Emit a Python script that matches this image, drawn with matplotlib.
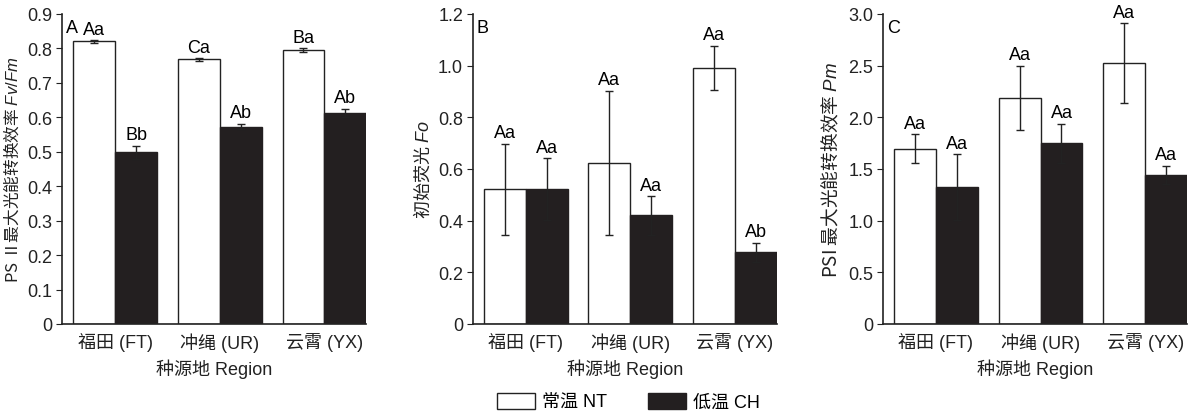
import numpy as np
import matplotlib
matplotlib.use('Agg')
import matplotlib.pyplot as plt
from matplotlib.patches import Patch

plt.rcParams['font.family'] = ['Liberation Sans', 'Noto Sans CJK SC']
plt.rcParams['mathtext.fontset'] = 'custom'
plt.rcParams['mathtext.it'] = 'Liberation Sans:italic'
plt.rcParams['mathtext.rm'] = 'Liberation Sans'

regions = ['福田 (FT)', '冲绳 (UR)', '云霄 (YX)']
xlabel = '种源地 Region'

# panel A: Fv/Fm
fvfm_nt = [0.820, 0.768, 0.795]
fvfm_nt_err = [0.003, 0.004, 0.006]
fvfm_ch = [0.499, 0.573, 0.613]
fvfm_ch_err = [0.019, 0.008, 0.012]
fvfm_nt_lab = ['Aa', 'Ca', 'Ba']
fvfm_ch_lab = ['Bb', 'Ab', 'Ab']

# panel B: Fo
fo_nt = [0.522, 0.623, 0.990]
fo_nt_err = [0.176, 0.280, 0.086]
fo_ch = [0.523, 0.420, 0.278]
fo_ch_err = [0.119, 0.074, 0.037]
fo_nt_lab = ['Aa', 'Aa', 'Aa']
fo_ch_lab = ['Aa', 'Aa', 'Ab']

# panel C: Pm
pm_nt = [1.695, 2.186, 2.525]
pm_nt_err = [0.142, 0.313, 0.384]
pm_ch = [1.327, 1.747, 1.443]
pm_ch_err = [0.317, 0.190, 0.088]
pm_nt_lab = ['Aa', 'Aa', 'Aa']
pm_ch_lab = ['Aa', 'Aa', 'Aa']

panels = [
    ('A', fvfm_nt, fvfm_nt_err, fvfm_ch, fvfm_ch_err, fvfm_nt_lab, fvfm_ch_lab,
     'PS Ⅱ最大光能转换效率 $\\mathit{Fv/Fm}$', 12, 0.9, np.arange(0, 0.91, 0.1),
     ['0'] + ['%.1f' % v for v in np.arange(0.1, 0.91, 0.1)], 0.052),
    ('B', fo_nt, fo_nt_err, fo_ch, fo_ch_err, fo_nt_lab, fo_ch_lab,
     '初始荧光 $\\mathit{Fo}$', 13, 1.2, np.arange(0, 1.21, 0.2),
     ['0'] + ['%.1f' % v for v in np.arange(0.2, 1.21, 0.2)], 0.395),
    ('C', pm_nt, pm_nt_err, pm_ch, pm_ch_err, pm_nt_lab, pm_ch_lab,
     'PSI 最大光能转换效率 $\\mathit{Pm}$', 13.5, 3.0, np.arange(0, 3.01, 0.5),
     ['0'] + ['%.1f' % v for v in np.arange(0.5, 3.01, 0.5)], 0.7377),
]

fig = plt.figure(figsize=(11.97, 4.14), dpi=100)
x = np.arange(3)
w = 0.40
fs = 13

for letter, nt, nte, ch, che, ntl, chl, ylab, yfs, ymax, yt, ytl, left in panels:
    ax = fig.add_axes([left, 0.215, 0.254, 0.749])
    ax.bar(x - w / 2, nt, w, color='white', edgecolor='#222222', linewidth=1.0,
           yerr=nte, error_kw=dict(ecolor='#222222', elinewidth=1.0, capsize=3, capthick=1.0))
    ax.bar(x + w / 2, ch, w, color='#231f20', edgecolor='#231f20', linewidth=1.0,
           yerr=che, error_kw=dict(ecolor='#222222', elinewidth=1.0, capsize=3, capthick=1.0))
    off = ymax * 0.008
    for i in range(3):
        ax.text(x[i] - w / 2, nt[i] + nte[i] + off, ntl[i], ha='center', va='bottom', fontsize=fs)
        ax.text(x[i] + w / 2, ch[i] + che[i] + off, chl[i], ha='center', va='bottom', fontsize=fs)
    ax.set_xlim(-0.505, 2.40)
    ax.set_ylim(0, ymax)
    ax.set_yticks(yt)
    ax.set_yticklabels(ytl)
    ax.set_xticks(x)
    ax.set_xticklabels(regions)
    ax.tick_params(axis='x', length=0, labelsize=fs, pad=6, colors='#222222')
    ax.tick_params(axis='y', direction='out', length=4, labelsize=fs, pad=3, colors='#222222')
    for s in ['top', 'right']:
        ax.spines[s].set_visible(False)
    for s in ['left', 'bottom']:
        ax.spines[s].set_linewidth(1.2)
        ax.spines[s].set_color('#222222')
    ax.set_xlabel(xlabel, fontsize=fs, labelpad=5, color='#222222')
    ax.set_ylabel(ylab, fontsize=yfs, labelpad=4, color='#222222', family='Noto Sans CJK SC')
    ax.text(0.012, 0.985, letter, transform=ax.transAxes, ha='left', va='top', fontsize=fs)

handles = [Patch(facecolor='white', edgecolor='#222222', label='常温 NT'),
           Patch(facecolor='#231f20', edgecolor='#231f20', label='低温 CH')]
fig.legend(handles=handles, loc='lower center', bbox_to_anchor=(0.525, -0.035), ncol=2,
           frameon=False, fontsize=fs, handlelength=2.1, handleheight=1.0,
           columnspacing=2.3, handletextpad=0.4)

fig.savefig('out.png', dpi=100)
